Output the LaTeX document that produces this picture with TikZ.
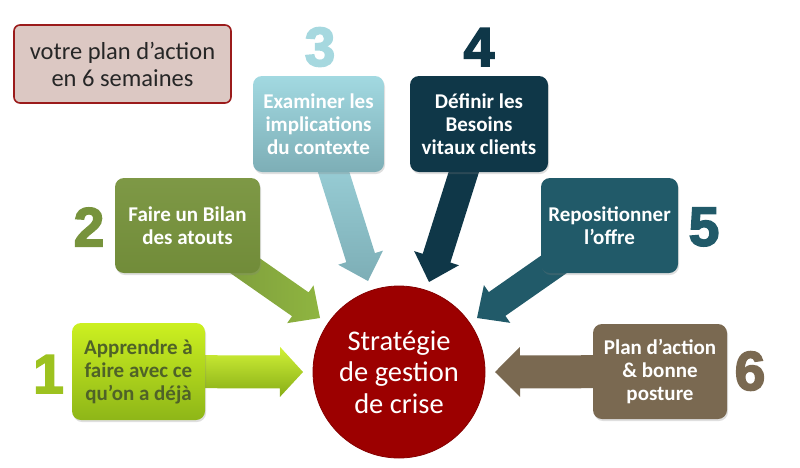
\documentclass[tikz,border=0pt]{standalone}
\usepackage{fontspec}
\setmainfont{Carlito}
\newfontfamily\numfont[BoldFeatures={FakeBold=3}]{Liberation Sans}
\usetikzlibrary{calc,shadows}
\definecolor{notefill}{HTML}{DCC8C3}
\definecolor{noteline}{HTML}{9B1B1B}
\definecolor{limetop}{HTML}{CCF020}
\definecolor{limebot}{HTML}{8EB618}
\definecolor{limetext}{HTML}{4F6228}
\definecolor{olive}{HTML}{77933C}
\definecolor{olivelight}{HTML}{8FB540}
\definecolor{tealtop}{HTML}{A2D9E1}
\definecolor{tealbot}{HTML}{7DAEB6}
\definecolor{navy}{HTML}{0F3748}
\definecolor{petrol}{HTML}{215A69}
\definecolor{brownish}{HTML}{7A6951}
\definecolor{crimson}{HTML}{9C0000}
\definecolor{num1}{HTML}{9DC21F}
\definecolor{num3}{HTML}{A6D8DF}
\newcommand{\blockarrow}[6]{%
  \coordinate (hb) at ($(#3)!#6!(#2)$);
  \path[#1] ($(#2)!#4!90:(#3)$) -- ($(hb)!#4!90:(#3)$) -- ($(hb)!#5!90:(#3)$)
    -- (#3) -- ($(hb)!#5!-90:(#3)$) -- ($(hb)!#4!-90:(#3)$) -- ($(#2)!#4!-90:(#3)$) -- cycle;
}
\begin{document}
\begin{tikzpicture}[x=1pt,y=-1pt,
  box/.style={rounded corners=9pt, inner sep=2pt, align=center, text=white,
    font=\bfseries\fontsize{21}{23}\selectfont,
    drop shadow={opacity=0.25,shadow xshift=1pt,shadow yshift=-2pt}},
  num/.style={font=\numfont\bfseries\fontsize{55}{55}\selectfont, inner sep=0pt},
  note/.style={rounded corners=6pt, draw=noteline, line width=1.6pt, fill=notefill,
    align=center, font=\fontsize{24.5}{27}\selectfont, text=black!85},
  hub/.style={circle, fill=crimson, draw=crimson!85!black, line width=0.8pt, text=white,
    align=center, font=\fontsize{28.5}{31.5}\selectfont, minimum size=172pt, inner sep=0pt}
]
\useasboundingbox (0,0) rectangle (800,467);

% arrow tips
\coordinate (t1) at (303,372);
\coordinate (t2) at (320,318);
\coordinate (t3) at (368,281);
\coordinate (t4) at (429,282);
\coordinate (t5) at (477,318);
\coordinate (t6) at (495,372);

% box centres
\coordinate (c1) at (138.5,371.5);
\coordinate (c2) at (187.5,225.5);
\coordinate (c3) at (318.5,124);
\coordinate (c4) at (479,124);
\coordinate (c5) at (609.5,225.5);
\coordinate (c6) at (660,371.5);

% arrows (behind boxes)
\blockarrow{top color=limetop!90!white, bottom color=limebot!95!black}{c1}{t1}{16.5pt}{25pt}{23pt}
\blockarrow{left color=olive, right color=olivelight}{c2}{t2}{14.5pt}{23pt}{24pt}
\blockarrow{top color=tealtop, bottom color=tealbot}{c3}{t3}{15pt}{23.5pt}{24.5pt}
\blockarrow{fill=navy}{c4}{t4}{14.5pt}{23.5pt}{25pt}
\blockarrow{fill=petrol}{c5}{t5}{14.5pt}{23pt}{24.5pt}
\blockarrow{fill=brownish}{c6}{t6}{16.5pt}{25pt}{25pt}

% boxes
\node[box, top color=limetop, bottom color=limebot, text=limetext,
  minimum width=133pt, minimum height=97pt] (b1) at (c1) {Apprendre à\\faire avec ce\\qu’on a déjà};
\node[box, top color=olive!95!white, bottom color=olive!95!black,
  minimum width=145pt, minimum height=95pt] (b2) at (c2) {Faire un Bilan\\des atouts};
\node[box, top color=tealtop, bottom color=tealbot,
  minimum width=131pt, minimum height=96pt] (b3) at (c3) {Examiner les\\implications\\du contexte};
\node[box, fill=navy, minimum width=138pt, minimum height=96pt] (b4) at (c4) {Définir les\\Besoins\\vitaux clients};
\node[box, fill=petrol, minimum width=137pt, minimum height=95pt] (b5) at (c5) {Repositionner\\l’offre};
\node[box, fill=brownish, minimum width=134pt, minimum height=95pt] (b6) at (c6) {Plan d’action\\\& bonne\\posture};

% hub
\node[hub] (hubnode) at (399,372) {Stratégie\\de gestion\\de crise};

% numbers
\node[num, text=num1] (n1) at (48.5,374) {1};
\node[num, text=olive] (n2) at (89,227) {2};
\node[num, text=num3] (n3) at (320,47) {3};
\node[num, text=navy] (n4) at (479,47) {4};
\node[num, text=petrol] (n5) at (704,227) {5};
\node[num, text=brownish] (n6) at (750,371) {6};

% note
\node[note, minimum width=217pt, minimum height=78pt] (notebox) at (122.5,64) {votre plan d’action\\en 6 semaines};
\end{tikzpicture}
\end{document}
